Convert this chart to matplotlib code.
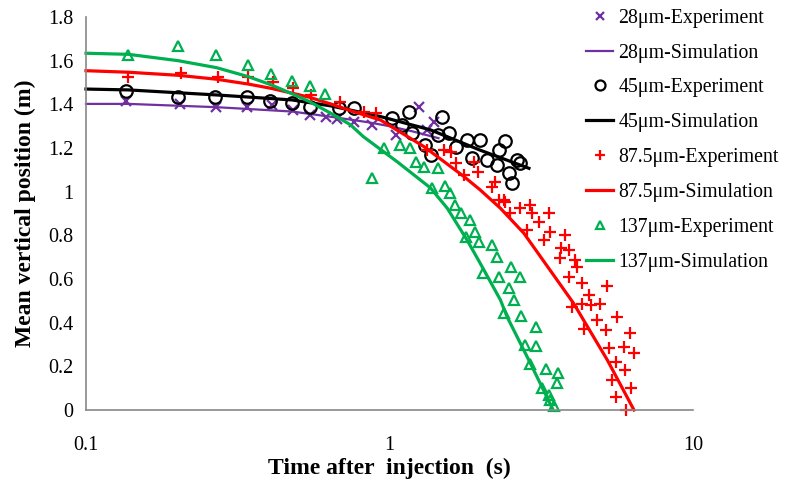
import matplotlib
matplotlib.use('Agg')
import matplotlib.pyplot as plt
from matplotlib.ticker import FixedLocator, FuncFormatter, NullLocator

plt.rcParams['font.family'] = ['Liberation Serif', 'DejaVu Serif']

# 28um
exp28_t = [0.135, 0.204, 0.269, 0.338, 0.411, 0.482, 0.546, 0.62, 0.669, 0.763,
           0.877, 1.05, 1.25, 1.33, 1.40]
exp28_y = [1.415, 1.40, 1.39, 1.387, 1.397, 1.374, 1.351, 1.343, 1.332, 1.32,
           1.306, 1.26, 1.39, 1.283, 1.32]
sim28_t = [0.1, 0.138, 0.269, 0.478, 0.656, 0.85, 1.0, 1.2, 1.45]
sim28_y = [1.402, 1.402, 1.387, 1.367, 1.341, 1.318, 1.30, 1.275, 1.245]

# 45um
exp45_t = [0.135, 0.201, 0.267, 0.338, 0.405, 0.478, 0.546, 0.68, 0.763, 1.02,
           1.10, 1.158, 1.188, 1.314, 1.365, 1.45, 1.49, 1.57, 1.65, 1.80,
           1.87, 1.99, 2.10, 2.26, 2.29, 2.41, 2.47, 2.54, 2.63, 2.70]
exp45_y = [1.463, 1.432, 1.432, 1.432, 1.415, 1.408, 1.387, 1.382, 1.382, 1.339,
           1.306, 1.367, 1.267, 1.214, 1.168, 1.26, 1.344, 1.267, 1.206, 1.237,
           1.153, 1.237, 1.145, 1.122, 1.19, 1.232, 1.084, 1.041, 1.145, 1.13]
sim45_t = [0.1, 0.138, 0.269, 0.478, 0.64, 0.934, 1.365, 1.99, 2.88]
sim45_y = [1.47, 1.466, 1.443, 1.42, 1.393, 1.344, 1.283, 1.19, 1.107]

# 87.5um
exp87_t = [0.138, 0.205, 0.272, 0.342, 0.414, 0.482, 0.552, 0.686, 0.823, 0.90,
           1.33, 1.51, 1.59, 1.65, 1.76, 1.90, 1.95, 2.18, 2.23, 2.29,
           2.38, 2.41, 2.50, 2.70, 2.84, 2.91, 2.95, 3.10, 3.22, 3.35,
           3.39, 3.64, 3.66, 3.80, 3.90, 3.90, 4.00, 4.10, 4.15, 4.32,
           4.32, 4.37, 4.54, 4.60, 4.83, 4.93, 5.15, 5.19, 5.28, 5.39,
           5.56, 5.56, 5.63, 5.91, 5.98, 6.03, 6.19, 6.26, 6.39]
exp87_y = [1.524, 1.545, 1.527, 1.527, 1.50, 1.473, 1.443, 1.412, 1.367, 1.359,
           1.19, 1.19, 1.183, 1.13, 1.077, 1.137, 1.092, 1.023, 1.046, 0.962,
           0.962, 0.954, 0.901, 0.924, 0.825, 0.939, 0.901, 0.863, 0.779, 0.901,
           0.817, 0.695, 0.741, 0.802, 0.733, 0.611, 0.473, 0.687, 0.656, 0.58,
           0.486, 0.37, 0.527, 0.481, 0.412, 0.486, 0.366, 0.568, 0.283, 0.137,
           0.221, 0.061, 0.427, 0.29, 0.183, 0.0, 0.351, 0.099, 0.26]
sim87_t = [0.1, 0.138, 0.201, 0.269, 0.342, 0.408, 0.478, 0.546, 0.656, 0.744,
           0.934, 1.30, 1.76, 1.99, 2.32, 2.77, 4.04, 5.22, 6.39]
sim87_y = [1.554, 1.547, 1.533, 1.515, 1.493, 1.473, 1.451, 1.432, 1.397, 1.371,
           1.328, 1.206, 1.069, 1.008, 0.924, 0.81, 0.489, 0.229, 0.0]

# 137um
exp137_t = [0.138, 0.201, 0.269, 0.342, 0.408, 0.478, 0.546, 0.615, 0.877, 0.958,
            1.087, 1.167, 1.22, 1.30, 1.383, 1.44, 1.52, 1.58, 1.64, 1.72,
            1.78, 1.84, 1.92, 1.97, 2.04, 2.18, 2.26, 2.29, 2.38, 2.47,
            2.52, 2.57, 2.69, 2.72, 2.80, 2.91, 3.05, 3.05, 3.18, 3.27,
            3.35, 3.39, 3.48, 3.55, 3.59]
exp137_y = [1.626, 1.667, 1.626, 1.58, 1.539, 1.508, 1.486, 1.447, 1.061, 1.199,
            1.214, 1.199, 1.137, 1.115, 1.016, 1.107, 1.026, 0.993, 0.939, 0.901,
            0.794, 0.87, 0.817, 0.771, 0.626, 0.756, 0.702, 0.611, 0.443, 0.557,
            0.656, 0.504, 0.611, 0.431, 0.298, 0.211, 0.382, 0.293, 0.099, 0.186,
            0.069, 0.046, 0.018, 0.125, 0.171]
sim137_t = [0.1, 0.138, 0.201, 0.269, 0.342, 0.408, 0.478, 0.546, 0.656, 0.744,
            0.82, 1.06, 1.365, 1.55, 1.80, 1.99, 2.32, 2.44, 2.91, 3.44]
sim137_y = [1.634, 1.629, 1.60, 1.568, 1.527, 1.489, 1.448, 1.412, 1.351, 1.306,
            1.252, 1.137, 1.017, 0.924, 0.779, 0.672, 0.504, 0.427, 0.215, 0.008]

labels = ['28\u03bcm-Experiment', '28\u03bcm-Simulation',
          '45\u03bcm-Experiment', '45\u03bcm-Simulation',
          '87.5\u03bcm-Experiment', '87.5\u03bcm-Simulation',
          '137\u03bcm-Experiment', '137\u03bcm-Simulation']

purple = '#7030A0'
red = '#FF0000'
green = '#00B050'

fig = plt.figure(figsize=(7.86, 4.8), dpi=100)
ax = fig.add_axes([0.1094, 0.1458, 0.7723, 0.8188])

h = []
h += ax.plot(exp28_t, exp28_y, 'x', color=purple, ms=7, mew=1.6)
h += ax.plot(sim28_t, sim28_y, '-', color=purple, lw=1.6)
h += ax.plot(exp45_t, exp45_y, 'o', mfc='none', mec='black', ms=9, mew=1.6)
h += ax.plot(sim45_t, sim45_y, '-', color='black', lw=2.3)
h += ax.plot(exp87_t, exp87_y, '+', color=red, ms=9, mew=1.6)
h += ax.plot(sim87_t, sim87_y, '-', color=red, lw=2.3)
h += ax.plot(exp137_t, exp137_y, '^', mfc='none', mec=green, ms=7.5, mew=1.6)
h += ax.plot(sim137_t, sim137_y, '-', color=green, lw=2.3)

ax.set_xscale('log')
ax.set_xlim(0.1, 10)
ax.set_ylim(0, 1.8)
ax.xaxis.set_major_locator(FixedLocator([0.1, 1, 10]))
ax.xaxis.set_minor_locator(NullLocator())
ax.xaxis.set_major_formatter(FuncFormatter(lambda v, p: '%g' % v))
ax.yaxis.set_major_locator(FixedLocator([0, 0.2, 0.4, 0.6, 0.8, 1.0, 1.2, 1.4, 1.6, 1.8]))
ax.yaxis.set_major_formatter(FuncFormatter(lambda v, p: '%g' % round(v, 1)))
ax.tick_params(axis='both', length=0, labelsize=14.5)
ax.tick_params(axis='x', pad=18.5)
ax.tick_params(axis='y', pad=9)

for s in ['top', 'right']:
    ax.spines[s].set_visible(False)
for s in ['left', 'bottom']:
    ax.spines[s].set_color('#888888')
    ax.spines[s].set_linewidth(1.2)

ax.set_xlabel('Time after  injection  (s)', fontsize=17, fontweight='bold', labelpad=2)
ax.set_ylabel('Mean vertical position (m)', fontsize=17, fontweight='bold', labelpad=9)

for line in h:
    line.set_clip_on(False)

ax.legend(h, labels, loc='upper left', bbox_to_anchor=(0.746, 0.982),
          bbox_transform=fig.transFigure, frameon=False, fontsize=14.3,
          handlelength=1.35, handletextpad=0.25, labelspacing=0.8,
          borderpad=0, borderaxespad=0, markerscale=0.8)

fig.savefig('out.png', dpi=100)
